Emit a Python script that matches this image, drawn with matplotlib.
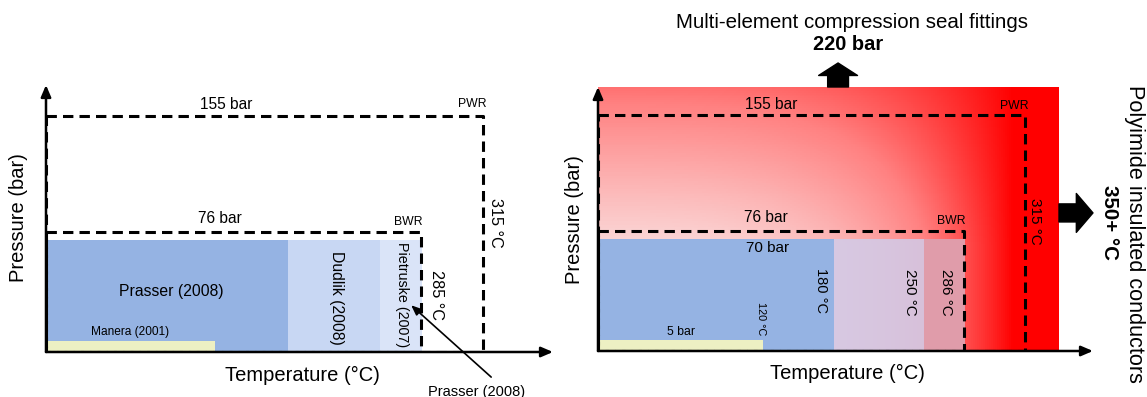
import numpy as np
import matplotlib
matplotlib.use('Agg')
import matplotlib.pyplot as plt
from matplotlib.colors import LinearSegmentedColormap

plt.rcParams['font.family'] = ['Liberation Sans', 'DejaVu Sans']

# Test facilities (temperature range in degC, max pressure in bar)
study_names = ['Prasser (2008)', 'Manera (2001)', 'Dudlik (2008)', 'Pietruske (2007)']
study_t_start = [0, 0, 180, 250]
study_t_end = [180, 120, 250, 286]
study_p = [70, 5, 70, 70]

# Reactor operating envelopes
reactor_names = ['BWR', 'PWR']
reactor_t = [285, 315]
reactor_p = [76, 155]

# Sensor limits (right panel)
fitting_p = 220
conductor_t = 350

left_colors = ['#95B3E3', '#EDF0C3', '#C8D7F3', '#DAE4F8']
right_colors = ['#95B3E3', '#EDF0C3', '#D1CCEA', '#E09CAA']
right_alpha = [1, 1, 0.85, 1]

# schematic axes, not to scale: value -> drawing position
t_knots = [-100, 0, 120, 180, 250, 286, 315, 350, 400]
t_pos = [-140, 0, 169, 242, 334, 376, 437, 472, 530]
p_knots = [-100, 0, 5, 70, 76, 155, 220, 300]
p_pos = [-220, 0, 11, 112, 120, 236, 264, 300]


def t_fwd(x):
    return np.interp(x, t_knots, t_pos)


def t_inv(x):
    return np.interp(x, t_pos, t_knots)


def p_fwd(y):
    return np.interp(y, p_knots, p_pos)


def p_inv(y):
    return np.interp(y, p_pos, p_knots)


W, H = 1147, 397
fig = plt.figure(figsize=(W / 100, H / 100), dpi=100)
ax1 = fig.add_axes([46 / W, 45 / H, 507 / W, 267 / H])
ax2 = fig.add_axes([598 / W, 46 / H, 495 / W, 264 / H])

dash = (0, (3.4, 2.0))


def setup(ax, ytop):
    ax.set_xscale('function', functions=(t_fwd, t_inv))
    ax.set_yscale('function', functions=(p_fwd, p_inv))
    ax.set_xlim(0, 380)
    ax.set_ylim(0, ytop)
    ax.axis('off')
    arrow = dict(arrowstyle='-|>,head_length=0.7,head_width=0.3', lw=1.8, color='black',
                 shrinkA=0, shrinkB=0, mutation_scale=10)
    ax.annotate('', xy=(1, 0), xytext=(0, 0), xycoords='axes fraction', arrowprops=arrow, zorder=6)
    ax.annotate('', xy=(0, 1), xytext=(0, 0), xycoords='axes fraction', arrowprops=arrow, zorder=6)


def reactor_boxes(ax):
    for t, p in zip(reactor_t, reactor_p):
        ax.plot([0, t, t, 0, 0], [p, p, 0, 0, p], color='black', lw=2.2, ls=dash, zorder=4)


setup(ax1, p_inv(267))
setup(ax2, fitting_p)

# ---- left panel: test facilities ----
for i in range(len(study_names)):
    ax1.bar(study_t_start[i], study_p[i], width=study_t_end[i] - study_t_start[i], align='edge',
            color=left_colors[i], lw=0, zorder=1)
reactor_boxes(ax1)

ax1.text(129, 182, '155 bar', ha='center', va='center', fontsize=11.2)
ax1.text(318, 182, 'PWR', ha='right', va='center', fontsize=8.8)
ax1.text(124, 85, '76 bar', ha='center', va='center', fontsize=11.2)
ax1.text(286, 82.5, 'BWR', ha='right', va='center', fontsize=8.8)
ax1.text(327, 82.5, '315 °C', rotation=270, ha='center', va='center', fontsize=11.7)
ax1.text(292.7, 34.6, '285 °C', rotation=270, ha='center', va='center', fontsize=11.7)
ax1.text(89, 37, study_names[0], ha='center', va='center', fontsize=11.3)
ax1.text(60, 10.8, study_names[1], ha='center', va='center', fontsize=8.6)
ax1.text(216.5, 33, study_names[2], rotation=270, ha='center', va='center', fontsize=11.3)
ax1.text(269, 35, study_names[3], rotation=270, ha='center', va='center', fontsize=10.3)
ax1.annotate('', xy=(276.6, 28), xytext=(323, -11.4), annotation_clip=False,
             arrowprops=dict(arrowstyle='-|>,head_length=0.6,head_width=0.25', lw=1.2,
                             color='black', shrinkA=0, shrinkB=0, mutation_scale=10))
ax1.text(312, -18, 'Prasser (2008)', ha='center', va='center', fontsize=10.5, clip_on=False)

# ---- right panel: sensor operating range ----
cmap = LinearSegmentedColormap.from_list('heat', ['#FAD6D6', '#FF8080', '#FF0000'])
u = np.linspace(0, 1, 231)
v = np.linspace(0, 1, 141)
X = t_inv(u * t_fwd(conductor_t))
Y = p_inv(v * p_fwd(fitting_p))
uc = (u[:-1] + u[1:]) / 2
vc = (v[:-1] + v[1:]) / 2
tu = np.clip(uc / 0.9, 0, 1) ** 3
tv = 0.56 * np.clip((vc - 0.4) / 0.6, 0, 1) ** 1.1
shade = 1 - (1 - tu[None, :]) * (1 - tv[:, None])
ax2.pcolormesh(X, Y, shade, cmap=cmap, vmin=0, vmax=1, shading='flat',
               edgecolors='none', antialiased=False, zorder=0)

for i in range(len(study_names)):
    ax2.bar(study_t_start[i], study_p[i], width=study_t_end[i] - study_t_start[i], align='edge',
            color=right_colors[i], alpha=right_alpha[i], lw=0, zorder=1)
reactor_boxes(ax2)

ax2.text(127, 179, '155 bar', ha='center', va='center', fontsize=11.2)
ax2.text(319, 177, 'PWR', ha='right', va='center', fontsize=8.8)
ax2.text(122.5, 85, '76 bar', ha='center', va='center', fontsize=11.2)
ax2.text(286, 82.5, 'BWR', ha='right', va='center', fontsize=8.8)
ax2.text(325, 82.5, '315 °C', rotation=270, ha='center', va='center', fontsize=11)
ax2.text(124, 64, f'{study_p[0]} bar', ha='center', va='center', fontsize=11)
ax2.text(60, 10, f'{study_p[1]} bar', ha='center', va='center', fontsize=8.8)
ax2.text(118.6, 19, f'{study_t_end[1]} °C', rotation=270, ha='center', va='center', fontsize=7.8)
ax2.text(168.5, 37, f'{study_t_end[0]} °C', rotation=270, ha='center', va='center', fontsize=10.5)
ax2.text(239, 35.5, f'{study_t_end[2]} °C', rotation=270, ha='center', va='center', fontsize=11)
ax2.text(269, 35.5, f'{study_t_end[3]} °C', rotation=270, ha='center', va='center', fontsize=11)

# block arrows for the limits
ax2.annotate('', xy=(0.485, 1.091), xytext=(0.485, 1.0), xycoords='axes fraction',
             annotation_clip=False,
             arrowprops=dict(arrowstyle='simple,head_length=9,head_width=28,tail_width=15',
                             color='black', shrinkA=0, shrinkB=0, mutation_scale=1))
ax2.annotate('', xy=(1.0, 0.523), xycoords='axes fraction',
             xytext=(conductor_t, 0.523), textcoords=ax2.get_xaxis_transform(),
             annotation_clip=False,
             arrowprops=dict(arrowstyle='simple,head_length=12,head_width=28,tail_width=13',
                             color='black', shrinkA=0, shrinkB=0, mutation_scale=1))

fig.text(852 / W, 1 - 22 / H, 'Multi-element compression seal fittings', ha='center', va='center', fontsize=14.8)
fig.text(848 / W, 1 - 45 / H, f'{fitting_p} bar', ha='center', va='center', fontsize=14.4, fontweight='bold')
fig.text(1135 / W, 1 - 234 / H, 'Polyimide insulated conductors', rotation=270, ha='center', va='center',
         fontsize=15.6)
fig.text(1110 / W, 1 - 222 / H, f'{conductor_t}+ °C', rotation=270, ha='center', va='center',
         fontsize=14.8, fontweight='bold')

# axis titles
fig.text(302 / W, 1 - 375 / H, 'Temperature (°C)', ha='center', va='center', fontsize=14.5)
fig.text(847 / W, 1 - 373 / H, 'Temperature (°C)', ha='center', va='center', fontsize=14.5)
fig.text(19 / W, 1 - 218 / H, 'Pressure (bar)', rotation=90, ha='center', va='center', fontsize=14.5)
fig.text(574 / W, 1 - 220 / H, 'Pressure (bar)', rotation=90, ha='center', va='center', fontsize=14.5)

fig.savefig('out.png', dpi=100)
